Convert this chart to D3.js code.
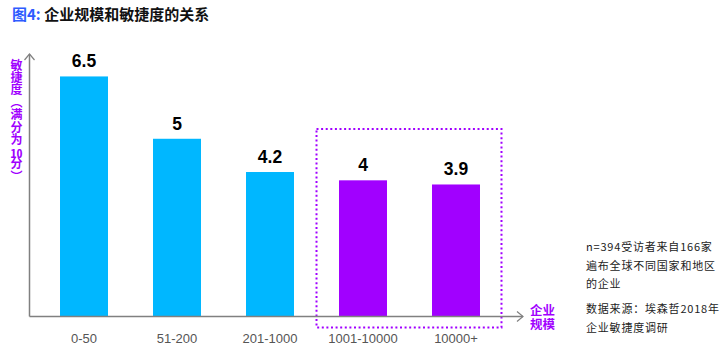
<!DOCTYPE html>
<html><head><meta charset="utf-8">
<script src="https://cdn.jsdelivr.net/npm/d3@7"></script>
<style>
html,body{margin:0;padding:0;background:#fff;}
#wrap{position:relative;width:725px;height:355px;}
svg{display:block;}
#ylab{position:absolute;left:10px;top:59px;writing-mode:vertical-rl;text-orientation:upright;
  font-family:'Noto Sans CJK SC','Noto Sans',sans-serif;font-weight:bold;font-size:12px;line-height:12px;
  letter-spacing:0.4px;color:#a100ff;white-space:nowrap;}
#ylab .tcu{text-combine-upright:all;}
#xlab{position:absolute;left:530px;top:303px;width:26px;font-family:'Noto Sans CJK SC','Noto Sans',sans-serif;
  font-weight:bold;font-size:12.5px;line-height:14px;color:#a100ff;word-break:break-all;}
</style></head>
<body><div id="wrap"><svg id="c" width="725" height="355"></svg><div id="ylab"></div><div id="xlab"></div></div>
<script>
const categories = ["0-50","51-200","201-1000","1001-10000","10000+"];
const values = [6.5, 5, 4.2, 4, 3.9];
const valueLabels = ["6.5","5","4.2","4","3.9"];
const highlighted = [false,false,false,true,true];
const yLabelParts = ["敏捷度（满分为", "10", "分）"];
const xLabelText = "企业规模";
const noteLines = ["n=394受访者来自166家","遍布全球不同国家和地区","的企业"];
const sourceLines = ["数据来源：埃森哲2018年","企业敏捷度调研"];

const BLUE = "#00b7ff", PURPLE = "#a100ff", AXIS = "#808080";
const CJK = "'Noto Sans CJK SC','Noto Sans',sans-serif";
const svg = d3.select("#c");

// title
const t = svg.append("text").attr("x", 12).attr("y", 20)
  .attr("font-family", CJK).attr("font-size", 15).attr("font-weight", "bold");
t.append("tspan").attr("fill", "#2e5bff").text("图4: ");
t.append("tspan").attr("fill", "#111").text("企业规模和敏捷度的关系");

const x = d3.scaleBand().domain(categories).range([37.5, 502.5])
  .paddingInner(0.484).paddingOuter(0.242);
const y = d3.scaleLinear().domain([0.723, 7.04]).range([316.5, 54]);

// highlight box
const hl = categories.filter((c,i)=>highlighted[i]);
const bx0 = x(hl[0]) - 22.5, bx1 = x(hl[hl.length-1]) + x.bandwidth() + 21.5;
svg.append("rect").attr("x", bx0).attr("y", 129).attr("width", bx1 - bx0).attr("height", 198.5)
  .attr("fill", "none").attr("stroke", PURPLE).attr("stroke-width", 2)
  .attr("stroke-dasharray", "2,2.6");

// bars
svg.selectAll("rect.bar").data(values).join("rect").attr("class","bar")
  .attr("x", (d,i)=>x(categories[i])).attr("width", x.bandwidth())
  .attr("y", d=>y(d)).attr("height", d=>y.range()[0]-y(d))
  .attr("fill", (d,i)=>highlighted[i]?PURPLE:BLUE);

// value labels
svg.selectAll("text.val").data(values).join("text").attr("class","val")
  .attr("x", (d,i)=>x(categories[i]) + x.bandwidth()/2)
  .attr("y", d=>y(d) - 9).attr("text-anchor","middle")
  .attr("font-family","'Liberation Sans',Arial,sans-serif").attr("font-weight","bold")
  .attr("font-size", 17.5).attr("fill","#000").text((d,i)=>valueLabels[i]);

// axes
const y0 = y.range()[0], axX = 29.5;
const xAxis = d3.axisBottom(x).tickSize(0).tickPadding(17);
const gx = svg.append("g").attr("transform", `translate(0,${y0})`).call(xAxis);
gx.select(".domain").remove();
gx.selectAll("text").attr("font-family","'Liberation Sans',Arial,sans-serif")
  .attr("font-size", 13).attr("fill","#555");
svg.append("line").attr("x1", axX).attr("x2", 523).attr("y1", y0).attr("y2", y0)
  .attr("stroke", AXIS).attr("stroke-width", 1.5);
svg.append("path").attr("d", `M517,${y0-5}L523,${y0}L517,${y0+5}`)
  .attr("fill","none").attr("stroke", AXIS).attr("stroke-width", 1.2);
svg.append("line").attr("x1", axX).attr("x2", axX).attr("y1", y0).attr("y2", 54)
  .attr("stroke", AXIS).attr("stroke-width", 1.5);
svg.append("path").attr("d", `M${axX-5},60L${axX},54L${axX+5},60`)
  .attr("fill","none").attr("stroke", AXIS).attr("stroke-width", 1.2);

// vertical y label (HTML, vertical writing mode)
const yl = d3.select("#ylab");
yLabelParts.forEach((p,i)=>{
  yl.append("span").attr("class", i===1 ? "tcu" : null).text(p);
});

// x axis title (HTML, wraps into two lines)
d3.select("#xlab").text(xLabelText);

// multi-line text helper
function block(lines, xPos, yPos, lh, attrs, anchor) {
  const el = svg.append("text").attr("text-anchor", anchor || "start");
  Object.entries(attrs).forEach(([k,v])=>el.attr(k,v));
  el.selectAll("tspan").data(lines).join("tspan")
    .attr("x", xPos).attr("y", (d,i)=>yPos + i*lh).text(d=>d);
  return el;
}

block(noteLines, 586, 251, 18.5,
  {"font-family":CJK, "font-size":11, "fill":"#222", "letter-spacing":0.8});
block(sourceLines, 586, 313, 18.5,
  {"font-family":CJK, "font-size":11, "fill":"#222", "letter-spacing":0.8});
</script></body></html>
